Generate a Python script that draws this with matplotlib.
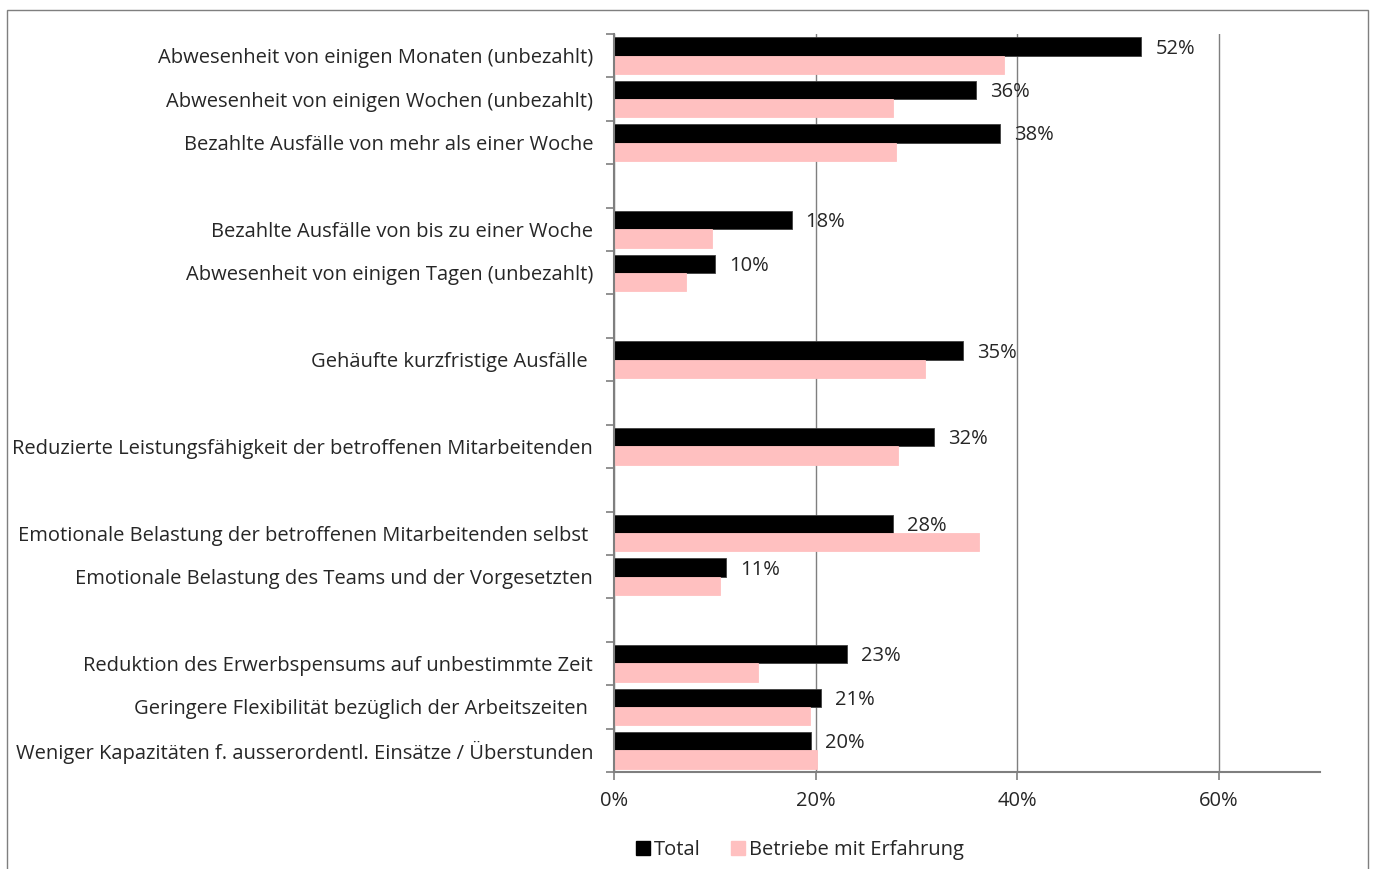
import matplotlib.pyplot as plt
from matplotlib.patches import Rectangle, Patch

plt.rcParams['font.family'] = ['Open Sans', 'DejaVu Sans']

# categories in display order (top -> bottom), empty strings are spacer rows
categories = [
    "Abwesenheit von einigen Monaten (unbezahlt)",
    "Abwesenheit von einigen Wochen (unbezahlt)",
    "Bezahlte Ausfälle von mehr als einer Woche",
    "",
    "Bezahlte Ausfälle von bis zu einer Woche",
    "Abwesenheit von einigen Tagen (unbezahlt)",
    "",
    "Gehäufte kurzfristige Ausfälle ",
    "",
    "Reduzierte Leistungsfähigkeit der betroffenen Mitarbeitenden",
    "",
    "Emotionale Belastung der betroffenen Mitarbeitenden selbst ",
    "Emotionale Belastung des Teams und der Vorgesetzten",
    "",
    "Reduktion des Erwerbspensums auf unbestimmte Zeit",
    "Geringere Flexibilität bezüglich der Arbeitszeiten ",
    "Weniger Kapazitäten f. ausserordentl. Einsätze / Überstunden",
]
total = [52.3, 35.9, 38.3, None, 17.6, 10.0, None, 34.6, None, 31.7, None,
         27.7, 11.1, None, 23.1, 20.5, 19.5]
erfahrung = [38.7, 27.7, 28.0, None, 9.7, 7.1, None, 30.8, None, 28.2, None,
             36.2, 10.5, None, 14.3, 19.4, 20.1]
total_labels = ["52%", "36%", "38%", None, "18%", "10%", None, "35%", None,
                "32%", None, "28%", "11%", None, "23%", "21%", "20%"]

txt = '#262626'
fs = 14.5

fig = plt.figure(figsize=(13.74, 8.69), dpi=100)
ax = fig.add_axes([0.4469, 0.1116, 0.5138, 0.8493])

# thin frame around the figure (bottom edge cut off like the original)
fig.patches.append(Rectangle((0.005, -0.05), 0.9905, 1.038, transform=fig.transFigure,
                             fill=False, edgecolor='#7f7f7f', linewidth=1.0))

h = 0.42
for i, (t, e, lab) in enumerate(zip(total, erfahrung, total_labels)):
    if t is None:
        continue
    ax.barh(i - h / 2, t, height=h, color='black', edgecolor='#404040', linewidth=0.6, zorder=3)
    ax.barh(i + h / 2, e, height=h, color='#ffc0c0', edgecolor='#ffc0c0', linewidth=0.6, zorder=3)
    ax.annotate(lab, (t, i - h / 2), xytext=(10, -1.5), textcoords='offset points',
                va='center', ha='left', fontsize=fs, color=txt)

ax.set_xlim(0, 70)
ax.set_ylim(len(categories) - 0.5, -0.5)
ax.set_xticks([0, 20, 40, 60])
ax.set_xticklabels(["0%", "20%", "40%", "60%"], fontsize=fs, color=txt)
ax.set_yticks(range(len(categories)))
ax.set_yticklabels(categories, fontsize=fs, color=txt)
ax.tick_params(axis='y', which='major', length=0, pad=15)
ax.set_yticks([k - 0.5 for k in range(len(categories) + 1)], minor=True)
ax.tick_params(axis='y', which='minor', length=6, color='#7f7f7f', width=1.2)
ax.tick_params(axis='x', length=6, color='#7f7f7f', width=1.2, pad=8)

ax.grid(axis='x', color='#7f7f7f', linewidth=1.0, zorder=0)
for s in ['top', 'right']:
    ax.spines[s].set_visible(False)
for s in ['left', 'bottom']:
    ax.spines[s].set_color('#7f7f7f')
    ax.spines[s].set_linewidth(1.5)
    ax.spines[s].set_zorder(4)

handles = [Patch(color='black', label='Total'),
           Patch(color='#ffc0c0', label='Betriebe mit Erfahrung')]
leg = fig.legend(handles=handles, loc='center', bbox_to_anchor=(0.582, 0.022), ncol=2,
                 frameon=False, fontsize=fs, handlelength=0.7, handleheight=0.7,
                 handletextpad=0.2, columnspacing=1.5)
for t in leg.get_texts():
    t.set_color(txt)

fig.savefig('out.png', dpi=100)
